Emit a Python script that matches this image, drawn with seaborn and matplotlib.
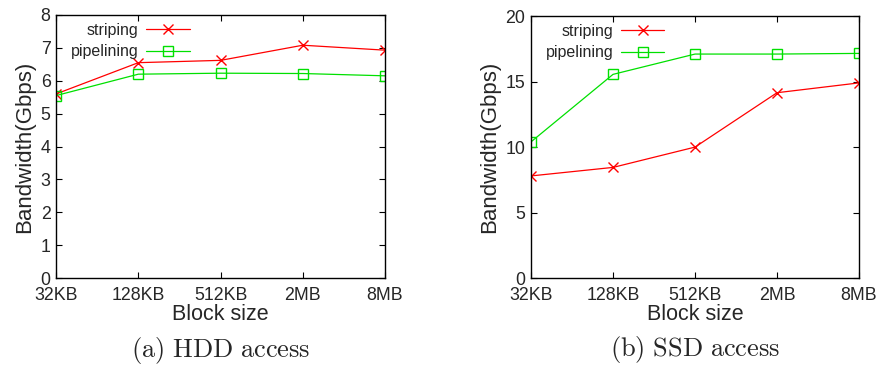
import matplotlib
matplotlib.use("Agg")
import matplotlib.pyplot as plt
import seaborn as sns
import pandas as pd

block_sizes = ["32KB", "128KB", "512KB", "2MB", "8MB"]

hdd_striping = [5.6, 6.55, 6.62, 7.08, 6.93]
hdd_pipelining = [5.55, 6.2, 6.23, 6.22, 6.15]

ssd_striping = [7.8, 8.45, 10.0, 14.15, 14.9]
ssd_pipelining = [10.4, 15.55, 17.1, 17.1, 17.15]

hdd_yticks = [0, 1, 2, 3, 4, 5, 6, 7, 8]
ssd_yticks = [0, 5, 10, 15, 20]

sns.set_theme(style="white")
plt.rcParams["font.family"] = ["Liberation Sans", "DejaVu Sans"]
plt.rcParams["mathtext.fontset"] = "cm"

RED = "#ff0000"
GREEN = "#00e000"


def frame(striping, pipelining):
    rows = []
    for i, (s, p) in enumerate(zip(striping, pipelining)):
        rows.append({"pos": i, "bw": s, "method": "striping"})
        rows.append({"pos": i, "bw": p, "method": "pipelining"})
    return pd.DataFrame(rows)


def panel(ax, df, yticks, caption):
    sns.lineplot(data=df[df.method == "striping"], x="pos", y="bw", ax=ax,
                 color=RED, lw=0.9, marker="x", markersize=6.5, mew=1.0,
                 mec=RED, label="striping")
    sns.lineplot(data=df[df.method == "pipelining"], x="pos", y="bw", ax=ax,
                 color=GREEN, lw=0.9, marker="s", markersize=6.5, mew=1.0,
                 mfc="none", mec=GREEN, label="pipelining")
    ax.set_xlim(0, len(block_sizes) - 1)
    ax.set_ylim(yticks[0], yticks[-1])
    ax.set_xticks(range(len(block_sizes)))
    ax.set_xticklabels(block_sizes)
    ax.set_yticks(yticks)
    ax.tick_params(axis="both", which="both", direction="in", length=4,
                   width=0.8, color="black", labelsize=12.8,
                   top=True, right=True, bottom=True, left=True)
    ax.tick_params(axis="x", pad=6.5)
    ax.tick_params(axis="y", pad=4)
    for lbl in ax.get_yticklabels():
        lbl.set_va("center_baseline")
    for sp in ax.spines.values():
        sp.set_color("black")
        sp.set_linewidth(1.0)
    ax.set_xlabel("Block size", fontsize=15.5, labelpad=0)
    ax.set_ylabel("Bandwidth(Gbps)", fontsize=16, labelpad=4)
    leg = ax.legend(loc="upper left", bbox_to_anchor=(0.02, 1.0), frameon=False,
                    markerfirst=False, fontsize=11.5, handlelength=2.7,
                    handletextpad=0.5, labelspacing=0.4, borderaxespad=0.1)
    leg._legend_box.align = "right"
    for packer in leg._legend_handle_box.get_children():
        packer.align = "right"
    ax.text(0.5, -0.274, caption, transform=ax.transAxes, ha="center",
            va="center", fontsize=19)


fig = plt.figure(figsize=(8.77, 3.65), dpi=100)
ax1 = fig.add_axes([0.064, 0.238, 0.375, 0.721])
ax2 = fig.add_axes([0.6055, 0.238, 0.374, 0.718])

panel(ax1, frame(hdd_striping, hdd_pipelining), hdd_yticks,
      r"$\mathrm{(a)\ HDD\ access}$")
panel(ax2, frame(ssd_striping, ssd_pipelining), ssd_yticks,
      r"$\mathrm{(b)\ SSD\ access}$")

fig.savefig("out.png", dpi=100, facecolor="white")
